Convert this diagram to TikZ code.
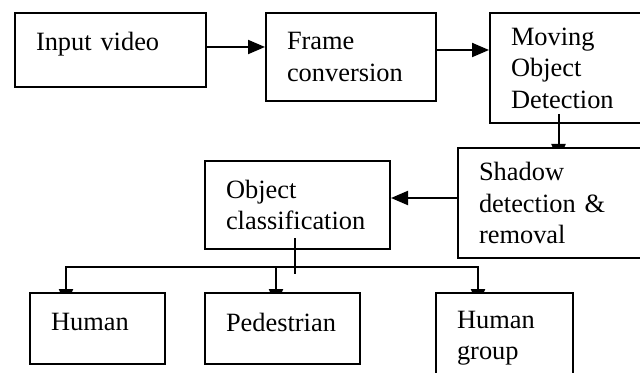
\documentclass[tikz,border=0pt]{standalone}
\usepackage{fontspec}
\setmainfont{Liberation Serif}
\usetikzlibrary{arrows.meta,calc}
\pgfdeclarelayer{back}
\pgfsetlayers{back,main}

\begin{document}
\begin{tikzpicture}[x=0.5pt, y=-0.5pt, >={Triangle[length=8.5pt,width=7pt]},
  box/.style={draw, line width=1pt, fill=white, anchor=north west, align=left,
    inner xsep=10.5pt, inner ysep=0pt, font=\fontsize{13.2pt}{15.75pt}\selectfont},
  arr/.style={->, line width=1pt},
  dn/.style={arr, shorten >=-7pt}]

  \useasboundingbox (0,0) rectangle (640,373);
  \clip (0,0) rectangle (640,373);

  % Top row
  \node[box, text width=74.5pt, minimum height=37pt, text depth=9pt] (inp) at (14,12) {Input video};
  \node[box, text width=64pt, minimum height=44pt] (frm) at (265,12) {Frame\\conversion};
  \node[box, text width=59.5pt, minimum height=55pt] (mov) at (489,12) {Moving\\Object\\Detection};

  % Middle row
  \node[box, text width=75.5pt, minimum height=55pt] (shd) at (457,147) {Shadow\\detection \&\\removal};
  \node[box, text width=71.5pt, minimum height=44pt] (obj) at (204,160) {Object\\classification};

  % Classes
  \node[box, text width=46.5pt, minimum height=35.5pt, text depth=6.5pt] (hum) at (29,292) {Human};
  \node[box, text width=56.5pt, minimum height=35.5pt, text depth=6.5pt] (ped) at (204,292) {Pedestrian};
  \node[box, text width=47.5pt, minimum height=45pt] (grp) at (435,292) {Human\\group};

  \coordinate (m1) at ($(mov.south)+(-12,-10)$);
  \coordinate (o1) at ($(obj.south)+(-3,-12)$);
  \coordinate (bh) at ($(hum.north west)+(37,-25)$);
  \coordinate (bp) at ($(ped.north west)+(72,-25)$);
  \coordinate (bg) at ($(grp.north west)+(43,-25)$);

  \begin{pgfonlayer}{back}
    \draw[arr] (inp.east |- 0,47) -- (frm.west |- 0,47);
    \draw[arr] (frm.east |- 0,50) -- (mov.west |- 0,50);
    \draw[dn] (m1) -- (m1 |- shd.north);
    \draw[arr] (shd.west |- 0,198) -- (obj.east |- 0,198);
    % Branches to the classes
    \draw[<->, line width=1pt, shorten <=-7pt, shorten >=-7pt]
      (bh |- hum.north) -- (bh) -- (bg) -- (bg |- grp.north);
    \draw[dn] (bp) -- (bp |- ped.north);
  \end{pgfonlayer}

  \draw[line width=1pt] (m1) -- (m1 |- mov.south);
  \draw[line width=1pt] (o1) -- ++(0,36);
\end{tikzpicture}
\end{document}
